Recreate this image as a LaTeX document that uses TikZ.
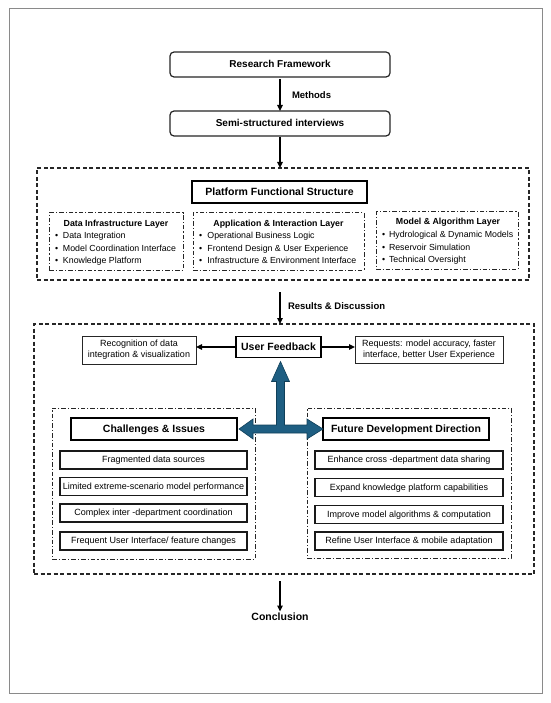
\documentclass[tikz,border=0pt]{standalone}
\usepackage{fontspec}
\setmainfont{Liberation Sans}
\usetikzlibrary{arrows.meta,calc}
\definecolor{framegray}{HTML}{8A8A8A}
\definecolor{hubblue}{HTML}{1E5E82}
\definecolor{hubedge}{HTML}{103F59}
\tikzset{
  roundbox/.style={draw=black!85, line width=1.2pt, rounded corners=4pt, font=\fontsize{10}{12}\selectfont\bfseries, text height=7.2pt, text depth=0.8pt},
  dashframe/.style={draw=black!85, line width=1.1pt, dash pattern=on 4pt off 2.5pt},
  platbox/.style={draw=black, line width=1.7pt, font=\fontsize{10.5}{12}\selectfont\bfseries, text height=7.5pt, text depth=0.8pt},
  layerbox/.style={draw=black!85, line width=1pt, dash pattern=on 4.5pt off 2pt on 1.2pt off 2pt},
  layertitle/.style={font=\fontsize{8.8}{10}\selectfont\bfseries},
  layeritem/.style={font=\fontsize{8.8}{10}\selectfont},
  headbox/.style={draw=black, line width=1.4pt, font=\fontsize{10.5}{12}\selectfont\bfseries, text height=7.5pt, text depth=0.8pt},
  itembox/.style={draw=black!90, line width=1.1pt, font=\fontsize{9}{11}\selectfont, text height=6.6pt, text depth=0.8pt},
  notebox/.style={draw=black!85, line width=1pt, font=\fontsize{9}{11}\selectfont, align=center},
  arrowstyle/.style={-{Triangle[length=6pt,width=5.5pt]}, line width=1.4pt, draw=black},
  labeltext/.style={font=\fontsize{9.5}{11}\selectfont\bfseries},
}
\begin{document}
\begin{tikzpicture}[x=1pt,y=-1pt, every node/.style={inner sep=0pt, outer sep=0pt}]
\useasboundingbox (0,0) rectangle (550,703);
\fill[white] (0,0) rectangle (550,703);
\draw[framegray, line width=0.9pt] (9,8) rectangle (542,693);

% top
\node[roundbox, minimum width=220pt, minimum height=25pt] (rf) at (280,64.5) {Research Framework};
\node[roundbox, minimum width=220pt, minimum height=25pt] (semi) at (280,123.5) {Semi-structured interviews};
\draw[arrowstyle, shorten <=2pt] (rf.south) -- (semi.north);
\node[labeltext, anchor=west] (meth) at (292,95) {Methods};

% platform frame
\node[dashframe, minimum width=492pt, minimum height=112pt] (frame1) at (283,224) {};
\draw[arrowstyle, shorten <=1pt] (semi.south) -- (semi.south |- frame1.north);
\node[platbox, minimum width=175pt, minimum height=22pt] (pfs) at (279.5,192) {Platform Functional Structure};

\node[layerbox, minimum width=134pt, minimum height=57pt] (dil) at (116,241.5) {};
\node[layerbox, minimum width=171pt, minimum height=57pt] (ail) at (278.5,241.5) {};
\node[layerbox, minimum width=142pt, minimum height=57pt] (mal) at (447,240.5) {};

\node[layertitle, anchor=base] (dilt) at (116,226) {Data Infrastructure Layer};
\node[layeritem, anchor=base west] (dil1) at (55,238.5) {\makebox[8pt][l]{•}Data Integration};
\node[layeritem, anchor=base west] (dil2) at (55,251) {\makebox[8pt][l]{•}Model Coordination Interface};
\node[layeritem, anchor=base west] (dil3) at (55,263.5) {\makebox[8pt][l]{•}Knowledge Platform};

\node[layertitle, anchor=base] (ailt) at (278.5,226) {Application \& Interaction Layer};
\node[layeritem, anchor=base west] (ail1) at (199,238.5) {\makebox[8.5pt][l]{•}Operational Business Logic};
\node[layeritem, anchor=base west] (ail2) at (199,251) {\makebox[8.5pt][l]{•}Frontend Design \& User Experience};
\node[layeritem, anchor=base west] (ail3) at (199,263.5) {\makebox[8.5pt][l]{•}Infrastructure \& Environment Interface};

\node[layertitle, anchor=base] (malt) at (448,225) {Model \& Algorithm Layer};
\node[layeritem, anchor=base west] (mal1) at (382,237.5) {\makebox[7pt][l]{•}Hydrological \& Dynamic Models};
\node[layeritem, anchor=base west] (mal2) at (382,250) {\makebox[7pt][l]{•}Reservoir Simulation};
\node[layeritem, anchor=base west] (mal3) at (382,262.5) {\makebox[7pt][l]{•}Technical Oversight};

% results frame
\node[dashframe, minimum width=500pt, minimum height=250pt] (frame2) at (284,449) {};
\draw[arrowstyle, shorten <=12pt] (frame1.south -| rf.south) -- (frame2.north -| rf.south);
\node[labeltext, anchor=west] (resl) at (288,306) {Results \& Discussion};

\node[headbox, minimum width=85pt, minimum height=21pt] (uf) at (278.5,347) {User Feedback};
\node[notebox, minimum width=114pt, minimum height=28pt] (rec) at (139,350) {Recognition of data\\integration \& visualization};
\node[notebox, minimum width=148pt, minimum height=27pt] (req) at (429,349.5) {Requests: model accuracy, faster\\interface, better User Experience};
\draw[arrowstyle] (uf.west) -- (uf.west -| rec.east);
\draw[arrowstyle] (uf.east) -- (uf.east -| req.west);

% challenges
\node[layerbox, minimum width=203pt, minimum height=151pt] (chalframe) at (153.5,483.5) {};
\node[headbox, minimum width=166pt, minimum height=22pt] (chal) at (154,429) {Challenges \& Issues};
\node[itembox, minimum width=187pt, minimum height=18pt] (c1) at (153.5,460) {Fragmented data sources};
\node[itembox, minimum width=187pt, minimum height=18pt] (c2) at (153.5,486.5) {Limited extreme-scenario model performance};
\node[itembox, minimum width=187pt, minimum height=18pt] (c3) at (153.5,513) {Complex inter -department coordination};
\node[itembox, minimum width=187pt, minimum height=18pt] (c4) at (153.5,541) {Frequent User Interface/ feature changes};

% future
\node[layerbox, minimum width=204pt, minimum height=150pt] (futframe) at (409,483) {};
\node[headbox, minimum width=166pt, minimum height=22pt] (fut) at (406,429) {Future Development Direction};
\node[itembox, minimum width=188pt, minimum height=18pt] (f1) at (409,460) {Enhance cross -department data sharing};
\node[itembox, minimum width=188pt, minimum height=18pt] (f2) at (409,487.5) {Expand knowledge platform capabilities};
\node[itembox, minimum width=188pt, minimum height=18pt] (f3) at (409,514.5) {Improve model algorithms \& computation};
\node[itembox, minimum width=188pt, minimum height=18pt] (f4) at (409,541) {Refine User Interface \& mobile adaptation};

% blue hub arrow
\coordinate (hub) at (280.5,429);
\coordinate (T) at ($(hub |- uf.south)+(0,4)$);
\coordinate (L) at ($(chal.east |- hub)+(2,0)$);
\coordinate (R) at (fut.west |- hub);
\filldraw[fill=hubblue, draw=hubedge, line width=0.6pt, line join=miter]
  (T) -- ++(9,20) -- ++(-5,0) -- ($(hub)+(4,-4)$) -- ($(R)+(-16,-4)$) -- ++(0,-6) -- (R)
  -- ($(R)+(-16,10)$) -- ++(0,-6) -- ($(L)+(14,4)$) -- ++(0,6) -- (L)
  -- ($(L)+(14,-10)$) -- ++(0,6) -- ($(hub)+(-4,-4)$) -- ($(T)+(-4,20)$) -- ++(-5,0) -- cycle;

% conclusion
\node[labeltext, font=\fontsize{10.5}{12}\selectfont\bfseries, anchor=north] (concl) at (280,613) {Conclusion};
\draw[arrowstyle, shorten <=7pt, shorten >=1.5pt] (frame2.south -| concl.north) -- (concl.north);
\end{tikzpicture}
\end{document}
